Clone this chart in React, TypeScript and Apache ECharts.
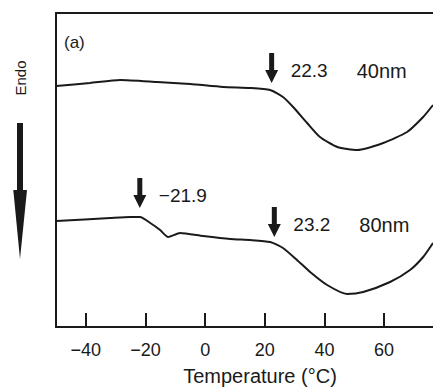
import React, { useEffect, useRef } from "react";
import * as echarts from "echarts";

// Temperature (°C) samples
const temps40 = [-49.9, -38.6, -28.5, -16.1, -5.0, 6.0, 15.1, 21.8, 26.1, 29.5, 34.2, 38.5, 44.3, 51.0, 59.7, 67.7, 73.1, 76.4];
// Heat flow (arbitrary units, endo down)
const flow40 = [241, 244, 247, 245, 243, 240, 239, 237, 230, 220, 204, 190, 180, 177, 184, 195, 210, 222];

const temps80 = [-49.9, -31.8, -25.1, -21.8, -18.4, -15.1, -12.4, -8.4, -0.7, 8.4, 15.1, 21.8, 26.1, 30.8, 35.2, 40.9, 47.6, 53.0, 62.0, 68.7, 73.1, 76.4];
const flow80 = [106, 109, 110, 110, 104, 97, 90, 94, 91, 88, 87, 85, 79, 67, 55, 42, 33, 35, 45, 57, 70, 84];

const xTicks = [-40, -20, 0, 20, 40, 60];

// Onset annotations: temperature, arrow tip level, label
const onsetTemps = [22.3, -21.9, 23.2];
const onsetTips = [244, 119, 90];
const onsetLabels = ["22.3", "\u221221.9", "23.2"];
const sizeLabels = ["40nm", "", "80nm"];

const FONT = "'Liberation Sans', Arial, sans-serif";
const INK = "#1a1a1a";

export default function App() {
  const ref = useRef<HTMLDivElement>(null);
  useEffect(() => {
    if (!ref.current) return;
    const chart = echarts.init(ref.current, null, { renderer: "svg" });
    const xMin = -50;
    const xMax = 76.4;
    const option: any = {
      animation: false,
      backgroundColor: "#ffffff",
      grid: { left: 56, top: 13, right: 0, bottom: 60 },
      xAxis: [
        {
          type: "value",
          min: xMin,
          max: xMax,
          position: "bottom",
          axisLine: { show: true, onZero: false, lineStyle: { color: INK, width: 2 } },
          axisTick: { show: true, inside: true, length: 14, customValues: xTicks, lineStyle: { color: INK, width: 2 } },
          axisLabel: {
            customValues: xTicks,
            margin: 14,
            color: INK,
            fontSize: 18,
            fontFamily: FONT,
            formatter: (v: number) => (v < 0 ? "\u2212" + Math.abs(v) : String(v)),
          },
          splitLine: { show: false },
        },
        {
          type: "value",
          min: xMin,
          max: xMax,
          position: "top",
          axisLine: { show: true, onZero: false, lineStyle: { color: INK, width: 2 } },
          axisTick: { show: false },
          axisLabel: { show: false },
          splitLine: { show: false },
        },
      ],
      yAxis: {
        type: "value",
        min: 0,
        max: 314,
        axisLine: { show: true, onZero: false, lineStyle: { color: INK, width: 2 } },
        axisTick: { show: false },
        axisLabel: { show: false },
        splitLine: { show: false },
      },
      series: [
        {
          name: "40nm",
          type: "line",
          data: temps40.map((t, i) => [t, flow40[i]]),
          smooth: 0.2,
          showSymbol: false,
          lineStyle: { color: INK, width: 2 },
        },
        {
          name: "80nm",
          type: "line",
          data: temps80.map((t, i) => [t, flow80[i]]),
          smooth: 0.2,
          showSymbol: false,
          lineStyle: { color: INK, width: 2 },
        },
      ],
    };
    chart.setOption(option);

    const graphics: any[] = [];
    onsetTemps.forEach((t, i) => {
      const p = chart.convertToPixel({ xAxisIndex: 0, yAxisIndex: 0 }, [t, onsetTips[i]]) as number[];
      const tx = p[0];
      const ty = p[1];
      graphics.push({
        type: "polygon",
        shape: {
          points: [
            [tx - 2.5, ty - 30],
            [tx + 2.5, ty - 30],
            [tx + 2.5, ty - 13],
            [tx + 6.5, ty - 13],
            [tx, ty],
            [tx - 6.5, ty - 13],
            [tx - 2.5, ty - 13],
          ],
        },
        style: { fill: INK },
      });
      graphics.push({
        type: "text",
        x: tx + 19,
        y: ty - 13,
        style: { text: onsetLabels[i], fill: INK, font: `19px ${FONT}`, textVerticalAlign: "middle", textAlign: "left" },
      });
      if (sizeLabels[i]) {
        graphics.push({
          type: "text",
          x: tx + 85,
          y: ty - 12,
          style: { text: sizeLabels[i], fill: INK, font: `20px ${FONT}`, textVerticalAlign: "middle", textAlign: "left" },
        });
      }
    });
    graphics.push(
      { type: "text", x: 64, y: 42, style: { text: "(a)", fill: INK, font: `17px ${FONT}`, textVerticalAlign: "middle", textAlign: "left" } },
      { type: "text", x: 20, y: 78, rotation: Math.PI / 2, style: { text: "Endo", fill: INK, font: `15px ${FONT}`, textVerticalAlign: "middle", textAlign: "center" } },
      { type: "rect", shape: { x: 17, y: 123, width: 6, height: 68 }, style: { fill: INK } },
      { type: "polygon", shape: { points: [[13.3, 190], [27, 190], [20, 259]] }, style: { fill: INK } },
      { type: "text", x: 260, y: 376, style: { text: "Temperature (°C)", fill: INK, font: `20px ${FONT}`, textVerticalAlign: "middle", textAlign: "center" } }
    );
    chart.setOption({ graphic: graphics });

    return () => chart.dispose();
  }, []);
  return <div ref={ref} style={{ position: "fixed", left: 0, top: 0, width: 433, height: 387 }} />;
}
